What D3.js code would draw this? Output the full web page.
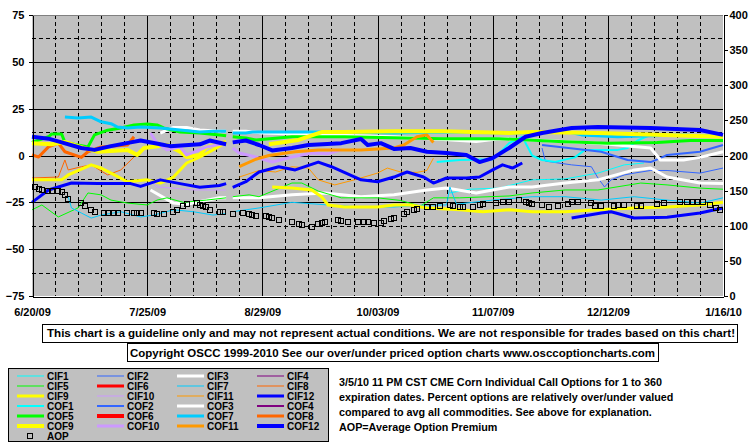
<!DOCTYPE html>
<html><head><meta charset="utf-8">
<script src="https://cdn.jsdelivr.net/npm/d3@7"></script>
<style>
body{margin:0;background:#fff}
svg{display:block}
text{font-family:"Liberation Sans",Arial,sans-serif;font-weight:bold;fill:#000}
</style>
</head><body>
<svg id="c" width="755" height="446"></svg>
<script>
// ---------- DATA ----------
const startDate = "2009-06-20";
const endDate = "2010-01-16";
const xTickDates = ["2009-06-20","2009-07-25","2009-08-29","2009-10-03","2009-11-07","2009-12-12","2010-01-16"];
const leftTicks = [-75,-50,-25,0,25,50,75];
const rightTicks = [0,50,100,150,200,250,300,350,400];
const seriesNames = ["CIF1","CIF2","CIF3","CIF4","CIF5","CIF6","CIF7","CIF8","CIF9","CIF10","CIF11","CIF12",
                     "COF1","COF2","COF3","COF4","COF5","COF6","COF7","COF8","COF9","COF10","COF11","COF12"];
// values: [days since startDate, percent over/under]; null = no data
const CIF1 = [[127,-20],[133,-18],[142,-17.4],[152,-13],[162,-12.5],[172,-9.4],[180,-5],[186,-4]];
const CIF2 = [[155,4],[156,-3],[164,-5],[170,-6],[172,-12],[174,-16.8],[176,-13],[180,-10.4],[183,-9.4],[188,-8],[193,-8],[203,-9.4],[210,-6.7]];
const CIF3 = [[36,-18.4],[43,-25.4],[47,-26],[57,-22.6],[59,-22.6],[60,null],[61,-22.6],[69,-22.6],[79,-21],[89,-20],[100,-22],[110,-21],[120,-18.4],[126,-17.4],[135,-20],[145,-16.8],[152,-16.8],[162,-14.7],[172,-13],[183,-7.7],[188,-6.7],[193,-11.5],[203,-14.7],[210,-15]];
const CIF4 = [];
const CIF5 = [[0,-29],[3,-26.4],[8,-32.8],[14,-28],[17,-20],[21,-21],[24,-23.8],[29,-25.4],[35,-26.4],[38,-23.8],[41,-22.6],[46,-25],[53,-23.8],[59,-22.6],[60,null],[61,-22],[66,-21],[69,-22],[79,-14.7],[82,-14.7],[87,-19],[94,-22.6],[105,-22.6],[112,-24],[118,-27],[122,-22.6],[130,-22.6],[145,-21.6],[152,-20],[162,-18.4],[172,-18.4],[185,-14.7],[193,-15.7],[203,-17.4],[210,-18]];
const CIF6 = [];
const CIF7 = [[11,-22],[12,-28],[15,-30.7],[18,-33.4],[21,-31.8],[27,-30],[33,-32.8],[37,-31.8],[43,-29],[49,-30],[55,-31.8],[59,-31],[60,null],[61,-30],[69,-28],[79,-25],[90,-26.4],[100,-27.5],[110,-27.5],[120,-26.4],[126,-26.4],[127,-16.8],[129,-26],[140,-23.8],[152,-22],[162,-22],[173,-23.8],[183,-22],[193,-23.8],[203,-25.4],[210,-22.6]];
const CIF8 = [[0,-12],[8,-11.5],[10,-2.4],[11,-7.7],[15,-6],[18,-5],[23,-10.4],[27,-7.7],[31,-0.8]];
const CIF9 = [[0,-13],[9,-13],[11,-10.4],[18,-5],[21,-6.7],[24,-9.4],[29,-14],[35,-13],[39,-14.7],[43,-11.5],[47,-4],[51,-0.8],[55,3],[59,7],[65,null],[73,-16.8],[79,-17.4],[85,-18.4],[88,-22],[90,-26.4],[95,-27.5],[105,-27.5],[110,-26.4],[115,-26.4],[120,-28],[130,-29],[137,-30],[145,-29],[152,-30],[162,-30],[172,-29],[183,-28],[193,-27.5],[203,-26.4],[210,-25]];
const CIF10 = [[36,-13],[38,-16.8],[43,-17.4],[49,-18.4],[59,-18.4]];
const CIF11 = [[63,-11.5],[69,-8],[74,-8.8],[79,-6],[84,-6.7],[87,-13],[92,-15.7],[98,-13],[105,-9.4],[108,-6.7],[112,-8.8],[117,-9],[120,-8],[122,-1.4]];
const CIF12 = [[0,-25],[5,-18.4],[12,-14.7],[20,-15],[30,-15],[33,-16.5],[39,-13],[45,-15],[51,-17],[57,-16],[59,-15],[60,null],[61,-17],[65,-14],[69,-8.8],[75,-6],[80,-7.7],[87,-3.5],[91,-6],[100,-13],[105,-14],[110,-11.5],[114,-8.8],[119,-11.5],[122,-14.7],[126,-12],[132,-12],[136,-11.5],[140,-7.7],[143,-5],[146,-6.7],[149,-4],[150,null],[164,-33.4],[173,-30.7],[176,-30],[183,-33.4],[193,-33],[203,-30.7],[210,-28]];
const COF1 = [[123,-3.5],[130,-2.4],[140,-2],[143,3],[145,6.6],[149,10],[152,0],[155,-2.4],[159,-3.4],[165,-1],[168,3],[178,3],[181,4],[184,8],[188,11],[195,11],[210,10]];
const COF2 = [[155,5.6],[163,4],[173,2],[181,-2.4],[188,-3.5],[191,-1.4],[193,0.3],[203,2],[210,5.6]];
const COF3 = [[39,12],[43,15],[47,15],[51,13.6],[57,13],[59,13],[60,null],[61,13],[65,13],[70,12],[90,11],[110,10],[125,8.5],[135,7.5],[142,9],[152,8.3],[172,6.6],[188,4],[191,-2.4],[198,-2.4],[203,-1],[210,2]];
const COF4 = [];
const COF5 = [[0,7],[5,10],[6,11.5],[9,11.5],[10,7],[17,4.5],[19,11],[23,13.5],[27,14.7],[31,16.3],[35,16.8],[38,16.3],[40,14.7],[45,12.5],[51,12],[57,11],[59,10.5],[60,null],[61,10],[65,9.3],[68,8.3],[79,10],[95,10],[110,9.5],[125,9],[142,9],[160,7.5],[175,6.5],[190,7],[200,8],[210,8]];
const COF6 = [];
const COF7 = [[10,20.5],[14,20],[18,20.5],[21,18],[24,17],[26,15.2],[29,14.7],[33,15.2],[39,14.7],[45,13.6],[51,12.5],[55,13],[59,13],[60,null],[61,12],[65,12],[67,12.5],[79,12.5],[95,12.5],[110,12],[125,12.5],[145,12],[152,12],[163,12.5],[167,11],[178,10],[188,10.5],[198,11],[210,10]];
const COF8 = [[0,0.3],[2,-0.8],[5,4.6],[8,6.6],[10,2],[15,-1],[17,2],[21,4.6],[29,5.6],[31,10]];
const COF9 = [[0,6.6],[6,6],[10,7.2],[15,4.5],[20,2],[29,3],[32,0.3],[34,4],[41,5.6],[45,2],[47,-0.8],[51,0.3],[53,4.5],[59,7.2],[65,null],[72,6],[81,8.3],[88,12.5],[95,12.5],[110,13],[125,13],[145,12],[152,12.5],[172,12],[192,11],[210,10]];
const COF10 = [[36,12],[38,6.6],[41,3],[45,4.5],[47,0.3],[53,4.5],[59,6.6],[60,null],[61,4],[63,1.3],[68,-0.8],[73,-3.5],[79,-0.8],[85,1.3],[90,1],[94,3]];
const COF11 = [[63,-6],[68,-2],[72,0],[80,2],[87,3],[100,3],[110,4],[113,5.6],[117,10],[120,11],[122,7]];
const COF12 = [[0,10],[5,9],[9,7],[15,4],[19,3],[24,5],[30,7],[33,8],[39,6],[42,5],[51,6],[54,8],[59,6],[60,null],[61,7],[65,8],[69,5.6],[73,2.7],[79,4],[84,5.6],[94,6.6],[100,8.8],[102,5.6],[106,6.6],[110,3.5],[115,4],[120,2],[126,1.3],[132,0.3],[136,-3.5],[140,-1.4],[145,4],[150,10],[155,12],[164,14.7],[172,15.2],[188,14.7],[203,13.6],[210,11]];
// Average Option Premium (right axis): [days since startDate, value]
const AOP = [[1,155],[2,152],[3,151],[5,149],[6,149],[8,149],[9,148],[10,144],[11,138],[15,132],[16,128],[18,122],[19,120],[22,118],[23,118],[25,118],[26,118],[29,118],[31,118],[32,118],[33,118],[37,118],[38,117],[40,117],[43,120],[44,122],[46,128],[47,131],[50,132],[51,130],[52,128],[53,127],[54,122],[57,120],[58,120],[61,117],[64,118],[66,117],[67,115],[68,114],
[71,114],[72,112.5],[73,111],[75,108],[79,105],[81,102.5],[82,101],[85,98],[87,102.5],[88,104],[89,105],[93,108],[94,107],[96,105],[99,105],[101,105],[102,105],[104,104],[106,104],[107,107],[109,110],[110,111],[113,117],[114,120],[116,122],[117,124],[120,127],[122,127],[124,128],[127,130],[128,128],[130,127],[131,127],[134,127],[136,130],[137,131],[141,132],[143,134],[145,134],[148,137],[150,134],[151,132],[152,131],[155,130],[157,127],[160,128],[163,131],[164,134],[166,134],[170,132],[171,128],[173,128],[177,128],[178,130],[180,130],[184,128],[185,128],[190,131],[192,132],[197,134],[199,134],[201,134],[202,134],[204,134],[206,130],[208,125],[209,122]];

const disclaimer = "This chart is a guideline only and may not represent actual conditions. We are not responsible for trades based on this chart!";
const copyright = "Copyright OSCC 1999-2010 See our over/under priced option charts www.osccoptioncharts.com";
const noteLines = ["3/5/10 11 PM CST CME Corn Individual Call Options for 1 to 360",
  "expiration dates. Percent options are relatively over/under valued",
  "compared to avg all commodities. See above for explanation.",
  "AOP=Average Option Premium"];

// ---------- STYLE ----------
const seriesData = {CIF1,CIF2,CIF3,CIF4,CIF5,CIF6,CIF7,CIF8,CIF9,CIF10,CIF11,CIF12,COF1,COF2,COF3,COF4,COF5,COF6,COF7,COF8,COF9,COF10,COF11,COF12};
const palette = ["#00ffff","#3366ff","#ffffff","#800080","#00ff00","#ff0000","#00ccff","#ff6600","#ffff00","#cc99ff","#ff9900","#0000ff"];
const cifWidth = [1,1,3,1,1,3,1,1,3,1,1,3];
const cofWidth = [2,2,3,2,3,4,3,3,4,3,3,4];
const styleOf = name => {
  const i = seriesNames.indexOf(name);
  const k = i % 12;
  return {color: palette[k], width: i < 12 ? cifWidth[k] : cofWidth[k]};
};

const svg = d3.select("#c");
const P = {l:32, r:723, t:15, b:296};
const parse = d3.timeParse("%Y-%m-%d");
const d0 = parse(startDate), d1 = parse(endDate);
const dayToDate = n => d3.timeDay.offset(d0, n);
const x = d3.scaleTime().domain([d0, d1]).range([P.l, P.r]);
const y = d3.scaleLinear().domain([-75, 75]).range([P.b, P.t]);
const y2 = d3.scaleLinear().domain([0, 400]).range([P.b, P.t]);
const px = v => Math.round(v) + 0.5;

// plot background
svg.append("rect").attr("x", P.l).attr("y", P.t).attr("width", P.r - P.l).attr("height", P.b - P.t).attr("fill", "#c0c0c0");

// grid
const grid = svg.append("g").attr("shape-rendering", "crispEdges");
const weeks = d3.range(0, 31).map(i => dayToDate(i * 7));
weeks.forEach((d, i) => {
  if (i === 0 || i === 30) return;
  grid.append("line").attr("x1", px(x(d))).attr("x2", px(x(d))).attr("y1", P.t).attr("y2", P.b)
    .attr("stroke", "#000").attr("stroke-width", 1).attr("stroke-dasharray", i % 5 === 0 ? null : "4,3");
});
d3.range(-62.5, 75, 12.5).forEach(v => {
  const solid = Math.abs(v % 25) < 1e-9;
  grid.append("line").attr("x1", P.l).attr("x2", P.r).attr("y1", px(y(v))).attr("y2", px(y(v)))
    .attr("stroke", "#000").attr("stroke-width", 1).attr("stroke-dasharray", solid ? null : "4,3");
});
grid.append("line").attr("x1", P.l).attr("x2", P.r).attr("y1", px(y(75))).attr("y2", px(y(75))).attr("stroke", "#808080");

// series
const line = d3.line().defined(d => d[1] !== null).x(d => x(dayToDate(d[0]))).y(d => y(d[1]));
const plotG = svg.append("g");
seriesNames.forEach(name => {
  const data = seriesData[name];
  if (!data.length) return;
  const s = styleOf(name);
  plotG.append("path").datum(data).attr("d", line).attr("fill", "none")
    .attr("stroke", s.color).attr("stroke-width", s.width).attr("stroke-linejoin", "round");
});
// AOP markers
plotG.selectAll("rect.aop").data(AOP).join("rect").attr("class", "aop")
  .attr("x", d => Math.round(x(dayToDate(d[0]))) - 2.5).attr("y", d => Math.round(y2(d[1])) - 2.5)
  .attr("width", 5).attr("height", 5).attr("fill", "none").attr("stroke", "#000").attr("stroke-width", 1);

// axes
const fontStyle = g => g.selectAll("text").style("font-family", "'Liberation Sans',Arial,sans-serif").style("font-weight", "bold");
const axL = svg.append("g").attr("transform", `translate(${P.l + 0.5},0)`)
  .call(d3.axisLeft(y).tickValues(leftTicks).tickSize(4).tickSizeOuter(0).tickPadding(4));
axL.attr("font-size", 11).call(fontStyle);
const axR = svg.append("g").attr("transform", `translate(${P.r + 0.5},0)`)
  .call(d3.axisRight(y2).tickValues(rightTicks).tickSize(4).tickSizeOuter(0).tickPadding(2));
axR.attr("font-size", 11).call(fontStyle);
const axB = svg.append("g").attr("transform", `translate(0,${P.b + 0.5})`)
  .call(d3.axisBottom(x).tickValues(xTickDates.map(parse)).tickSize(0).tickSizeOuter(0).tickPadding(12)
    .tickFormat(d3.timeFormat("%-m/%d/%y")));
axB.attr("font-size", 11).call(fontStyle);
[axL, axR, axB].forEach(a => a.selectAll("path,line").attr("shape-rendering", "crispEdges"));
axL.selectAll("text").attr("x", -8);

// text boxes
const fitText = (sel, w) => sel.attr("textLength", w).attr("lengthAdjust", "spacingAndGlyphs");
const box = (x0, y0, w, h, txt, cx, cy, tw) => {
  svg.append("rect").attr("x", x0 + 0.5).attr("y", y0 + 0.5).attr("width", w).attr("height", h)
    .attr("fill", "#fff").attr("stroke", "#000").attr("shape-rendering", "crispEdges");
  svg.append("text").attr("x", cx).attr("y", cy).attr("text-anchor", "middle").attr("font-size", 11)
    .text(txt).call(fitText, tw);
};
box(42, 324, 695, 18, disclaimer, 391, 337, 688);
box(127, 343, 531, 18, copyright, 392.5, 356.5, 525);

// legend
svg.append("rect").attr("x", 8.5).attr("y", 368.5).attr("width", 320).attr("height", 73)
  .attr("fill", "#c0c0c0").attr("stroke", "#000").attr("shape-rendering", "crispEdges");
const leg = svg.append("g");
seriesNames.forEach((name, i) => {
  const col = i % 4, row = Math.floor(i / 4);
  const lx = 17 + col * 80, ly = 376 + row * 10;
  const s = styleOf(name);
  leg.append("line").attr("x1", lx).attr("x2", lx + 27).attr("y1", ly).attr("y2", ly)
    .attr("stroke", s.color).attr("stroke-width", s.width);
  leg.append("text").attr("x", lx + 30).attr("y", ly + 3.6).attr("font-size", 10).text(name);
});
leg.append("rect").attr("x", 27.5).attr("y", 433.5).attr("width", 5).attr("height", 5)
  .attr("fill", "none").attr("stroke", "#000");
leg.append("text").attr("x", 47).attr("y", 439.6).attr("font-size", 10).text("AOP");

// note: uniform horizontal scale so that the first line spans the reference width
const notes = svg.append("g").selectAll("text").data(noteLines).join("text")
  .attr("x", 339).attr("y", (d, i) => 385.6 + i * 15).attr("font-size", 11).text(d => d);
const firstW = notes.node().getComputedTextLength();
const k = 323 / firstW;
notes.each(function() {
  const w = this.getComputedTextLength();
  d3.select(this).call(fitText, w * k);
});
</script>
</body></html>
